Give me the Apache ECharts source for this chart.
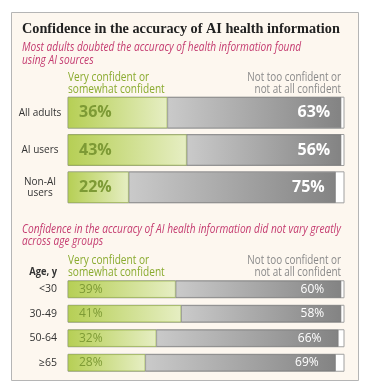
<!DOCTYPE html>
<html><head><meta charset="utf-8">
<script src="https://cdn.jsdelivr.net/npm/echarts@6/dist/echarts.min.js"></script>
<style>html,body{margin:0;padding:0;background:#fff}#c{width:369px;height:391px}</style>
</head><body><div id="c"></div>
<script>
const groups1 = ['All adults', 'AI users', 'Non-AI\nusers'];
const conf1 = [36, 43, 22];
const notConf1 = [63, 56, 75];
const groups2 = ['<30', '30-49', '50-64', '≥65'];
const conf2 = [39, 41, 32, 28];
const notConf2 = [60, 58, 66, 69];

const SANS = '"Open Sans", sans-serif';
const greenGrad = {type:'linear',x:0,y:0,x2:1,y2:0,colorStops:[{offset:0,color:'#b6cf55'},{offset:1,color:'#e6eec3'}]};
const grayGrad = {type:'linear',x:0,y:0,x2:1,y2:0,colorStops:[{offset:0,color:'#cacaca'},{offset:1,color:'#838383'}]};

function barSeries(idx, conf, notConf, bw, fs, fw, dl, dr) {
  return [
    {type:'bar', xAxisIndex:idx, yAxisIndex:idx, stack:'s'+idx, data:conf, barWidth:bw,
     showBackground:true, backgroundStyle:{color:'#ffffff', borderColor:'#a0a0a0', borderWidth:1},
     itemStyle:{color:greenGrad, borderColor:'#8fab3a', borderWidth:0.6},
     label:{show:true, position:'insideLeft', formatter:'{c}%', color:'#7d9a35', fontFamily:SANS, fontSize:fs, fontWeight:fw, distance:dl},
     silent:true},
    {type:'bar', xAxisIndex:idx, yAxisIndex:idx, stack:'s'+idx, data:notConf, barWidth:bw,
     itemStyle:{color:grayGrad, borderColor:'#777', borderWidth:0.6},
     label:{show:true, position:'insideRight', formatter:'{c}%', color:'#ffffff', fontFamily:SANS, fontSize:fs, fontWeight:fw, distance:dr},
     silent:true}
  ];
}

function txt(x, y, s, font, fill, align, sx) {
  return {type:'text', x:x, y:y, scaleX:sx, style:{text:s, font:font, fill:fill, textAlign:align||'left', textVerticalAlign:'middle'}};
}

const SUB = 'italic 12px ' + SANS, HDR = '12.5px ' + SANS;
const chart = echarts.init(document.getElementById('c'), null, {renderer:'canvas'});
chart.setOption({
  animation:false,
  backgroundColor:'#ffffff',
  grid:[
    {left:68, right:25, top:94, height:112},
    {left:68, right:25, top:277, height:98}
  ],
  xAxis:[
    {gridIndex:0, type:'value', min:0, max:100, show:false},
    {gridIndex:1, type:'value', min:0, max:100, show:false}
  ],
  yAxis:[
    {gridIndex:0, type:'category', data:groups1, inverse:true, axisLine:{show:false}, axisTick:{show:false},
     axisLabel:{align:'center', margin:28, color:'#333', fontFamily:SANS, fontSize:10, lineHeight:11}},
    {gridIndex:1, type:'category', data:groups2, inverse:true, axisLine:{show:false}, axisTick:{show:false},
     axisLabel:{margin:11, color:'#333', fontFamily:SANS, fontSize:10.5}}
  ],
  series:[].concat(barSeries(0, conf1, notConf1, 31, 16, 'bold', 11, 11), barSeries(1, conf2, notConf2, 17, 12, 'normal', 11, 17)),
  graphic:[
    {type:'rect', z:-10, shape:{x:11.5, y:12.5, width:347, height:368}, style:{fill:'#fdf7ef', stroke:'#b5b5b5', lineWidth:1}},
    txt(22, 29, 'Confidence in the accuracy of AI health information', 'bold 15px "Liberation Serif", serif', '#222', 'left', 0.95),
    txt(22, 48, 'Most adults doubted the accuracy of health information found', SUB, '#c43a6f', 'left', 0.845),
    txt(22, 61, 'using AI sources', SUB, '#c43a6f', 'left', 0.845),
    txt(68, 77, 'Very confident or', HDR, '#8aab2f', 'left', 0.81),
    txt(68, 89, 'somewhat confident', HDR, '#8aab2f', 'left', 0.81),
    txt(341, 77, 'Not too confident or', HDR, '#8a8a8a', 'right', 0.79),
    txt(341, 89, 'not at all confident', HDR, '#8a8a8a', 'right', 0.79),
    txt(22, 230, 'Confidence in the accuracy of AI health information did not vary greatly', SUB, '#c43a6f', 'left', 0.845),
    txt(22, 242, 'across age groups', SUB, '#c43a6f', 'left', 0.845),
    txt(68, 260, 'Very confident or', HDR, '#8aab2f', 'left', 0.81),
    txt(68, 272, 'somewhat confident', HDR, '#8aab2f', 'left', 0.81),
    txt(341, 260, 'Not too confident or', HDR, '#8a8a8a', 'right', 0.79),
    txt(341, 272, 'not at all confident', HDR, '#8a8a8a', 'right', 0.79),
    txt(57, 272, 'Age, y', 'bold 11px ' + SANS, '#333', 'right', 0.85)
  ]
});
</script></body></html>
